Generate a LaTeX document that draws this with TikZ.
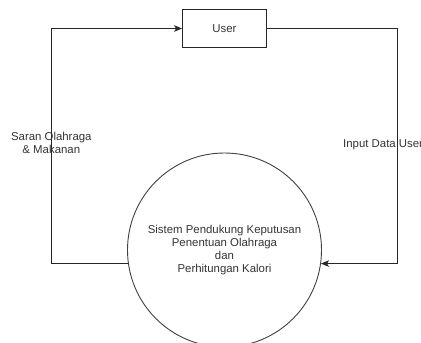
\documentclass[tikz,border=0pt]{standalone}
\usepackage{fontspec}
\setmainfont{Liberation Sans}
\usetikzlibrary{arrows.meta}
\begin{document}
\begin{tikzpicture}[x=1pt,y=-1pt,
  every node/.style={font=\fontsize{11.4}{13.2}\selectfont, text=black!80},
  box/.style={draw=black!85, line width=0.9pt, minimum width=84pt, minimum height=38pt, inner sep=0pt},
  proc/.style={circle, draw=black!75, line width=0.9pt, minimum size=194pt, inner sep=0pt, align=center},
  flow/.style={draw=black!85, line width=0.9pt, -{Stealth[length=8pt,width=6.5pt,inset=2pt]}},
  lbl/.style={align=center, inner sep=0pt}]
\useasboundingbox (0,0) rectangle (421,343);

% entity and process
\node[box] (user) at (224.5,28.5) {User};
\node[proc] (sys) at (224.5,250) {Sistem Pendukung Keputusan\\Penentuan Olahraga\\dan\\Perhitungan Kalori};

% routing columns for the two flows
\coordinate (lx) at (51.3,0);
\coordinate (rx) at (397.7,0);

% flows
\draw[flow] (sys.188) -- (sys.188 -| lx) |- (user.west);
\draw[flow] (user.east) -- (user.east -| rx) |- (sys.352);

% flow labels
\node[lbl] (lsaran) at (51.3,143) {Saran Olahraga\\\& Makanan};
\node[lbl, anchor=west] (linput) at (343,145) {Input Data User};
\end{tikzpicture}
\end{document}
